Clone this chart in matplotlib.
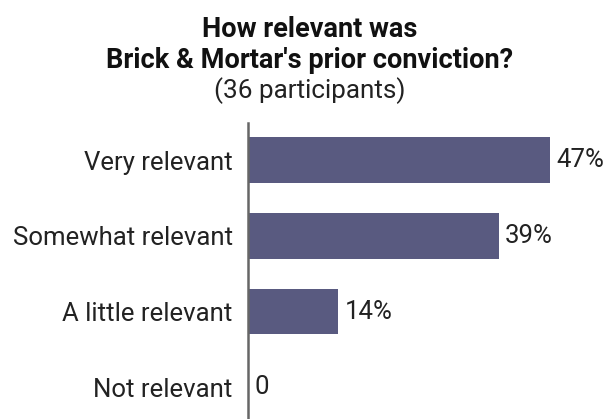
import matplotlib
matplotlib.use("Agg")
import matplotlib.pyplot as plt

# Survey answers and share of participants (%)
categories = ["Very relevant", "Somewhat relevant", "A little relevant", "Not relevant"]
shares = [47, 39, 14, 0]
value_labels = ["47%", "39%", "14%", "0"]

plt.rcParams["font.family"] = ["Roboto", "DejaVu Sans"]

W, H = 611, 419
fig = plt.figure(figsize=(W / 100, H / 100), dpi=100)
ax = fig.add_axes([248 / W, 0.0, 353.6 / W, 296 / H])

bar_color = "#595a80"
text_color = "#222222"
pos = range(len(categories))
ax.barh(pos, shares, height=0.6, color=bar_color)

for y, v, lab in zip(pos, shares, value_labels):
    ax.text(v + 1.0, y, lab, va="center", ha="left", fontsize=18.5, color=text_color)

ax.set_yticks(list(pos))
ax.set_yticklabels(categories, fontsize=18.5, color=text_color)
ax.tick_params(axis="y", length=0, pad=11)
ax.set_xticks([])
ax.set_xlim(0, 55)
ax.set_ylim(3.42, -0.49)

for side in ["top", "right", "bottom"]:
    ax.spines[side].set_visible(False)
ax.spines["left"].set_color("#666666")
ax.spines["left"].set_linewidth(1.8)

cx = 310 / W
fig.text(cx, 1 - 37 / H, "How relevant was", ha="center", va="baseline",
         fontsize=19.5, fontweight="bold", color="#111111")
fig.text(cx, 1 - 68 / H, "Brick & Mortar's prior conviction?", ha="center", va="baseline",
         fontsize=19.5, fontweight="bold", color="#111111")
fig.text(cx, 1 - 98 / H, "(36 participants)", ha="center", va="baseline",
         fontsize=18.8, color=text_color)

fig.savefig("out.png", dpi=100)
